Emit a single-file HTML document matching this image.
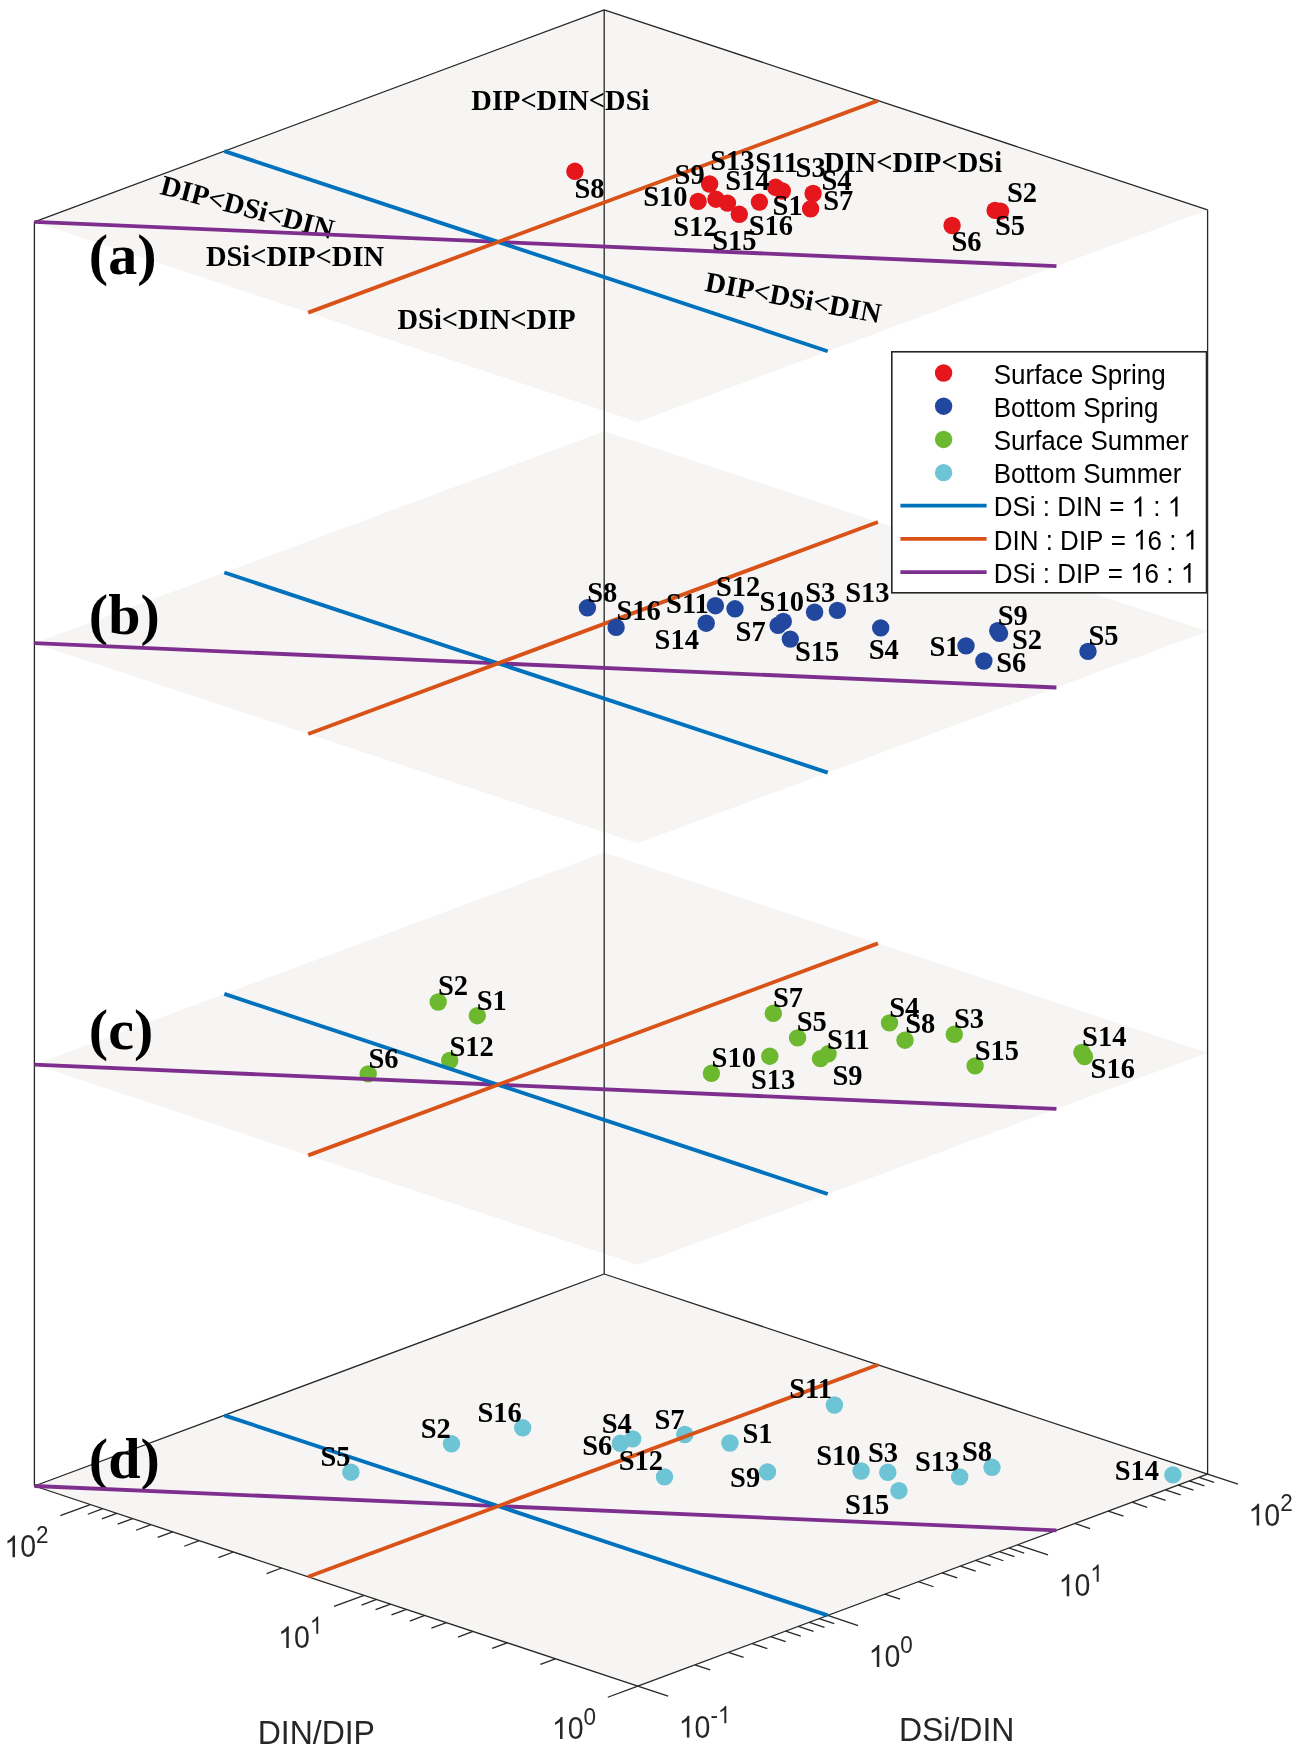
<!DOCTYPE html>
<html><head><meta charset="utf-8"><style>
html,body{margin:0;padding:0;background:#fff;}
svg{display:block;will-change:transform;}
</style></head><body>
<svg width="1302" height="1750" viewBox="0 0 1302 1750">
<polygon points="34.4,1486 604.2,1274 1207.6,1474.1 637.8,1686.1" fill="#F6F5F3"/>
<polygon points="34.4,1064.6 604.2,852.6 1207.6,1052.7 637.8,1264.7" fill="#F6F5F3"/>
<polygon points="34.4,643.2 604.2,431.2 1207.6,631.3 637.8,843.3" fill="#F6F5F3"/>
<polygon points="34.4,221.8 604.2,9.8 1207.6,209.9 637.8,421.9" fill="#F6F5F3"/>
<line x1="34.4" y1="1486" x2="34.4" y2="221.8" stroke="#262626" stroke-width="1.3"/>
<line x1="604.2" y1="1274" x2="604.2" y2="9.8" stroke="#262626" stroke-width="1.3"/>
<line x1="1207.6" y1="1474.1" x2="1207.6" y2="209.9" stroke="#262626" stroke-width="1.3"/>
<line x1="34.4" y1="221.8" x2="604.2" y2="9.8" stroke="#262626" stroke-width="1.3"/>
<line x1="604.2" y1="9.8" x2="1207.6" y2="209.9" stroke="#262626" stroke-width="1.3"/>
<line x1="34.4" y1="1486" x2="604.2" y2="1274" stroke="#262626" stroke-width="1.3"/>
<line x1="604.2" y1="1274" x2="1207.6" y2="1474.1" stroke="#262626" stroke-width="1.3"/>
<line x1="34.4" y1="1486" x2="637.8" y2="1686.1" stroke="#262626" stroke-width="1.3"/>
<line x1="637.8" y1="1686.1" x2="1207.6" y2="1474.1" stroke="#262626" stroke-width="1.3"/>
<line x1="637.8" y1="1686.1" x2="668.17" y2="1696.17" stroke="#262626" stroke-width="1.3"/>
<line x1="694.98" y1="1664.83" x2="710.16" y2="1669.86" stroke="#262626" stroke-width="1.3"/>
<line x1="728.42" y1="1652.38" x2="743.61" y2="1657.42" stroke="#262626" stroke-width="1.3"/>
<line x1="752.15" y1="1643.55" x2="767.34" y2="1648.59" stroke="#262626" stroke-width="1.3"/>
<line x1="770.56" y1="1636.71" x2="785.74" y2="1641.74" stroke="#262626" stroke-width="1.3"/>
<line x1="785.6" y1="1631.11" x2="800.78" y2="1636.15" stroke="#262626" stroke-width="1.3"/>
<line x1="798.31" y1="1626.38" x2="813.5" y2="1631.42" stroke="#262626" stroke-width="1.3"/>
<line x1="809.33" y1="1622.28" x2="824.51" y2="1627.32" stroke="#262626" stroke-width="1.3"/>
<line x1="819.04" y1="1618.67" x2="834.23" y2="1623.7" stroke="#262626" stroke-width="1.3"/>
<line x1="827.73" y1="1615.43" x2="858.11" y2="1625.51" stroke="#262626" stroke-width="1.3"/>
<line x1="884.91" y1="1594.16" x2="900.1" y2="1599.2" stroke="#262626" stroke-width="1.3"/>
<line x1="918.35" y1="1581.72" x2="933.54" y2="1586.75" stroke="#262626" stroke-width="1.3"/>
<line x1="942.08" y1="1572.89" x2="957.27" y2="1577.92" stroke="#262626" stroke-width="1.3"/>
<line x1="960.49" y1="1566.04" x2="975.68" y2="1571.08" stroke="#262626" stroke-width="1.3"/>
<line x1="975.53" y1="1560.44" x2="990.72" y2="1565.48" stroke="#262626" stroke-width="1.3"/>
<line x1="988.25" y1="1555.71" x2="1003.43" y2="1560.75" stroke="#262626" stroke-width="1.3"/>
<line x1="999.26" y1="1551.61" x2="1014.45" y2="1556.65" stroke="#262626" stroke-width="1.3"/>
<line x1="1008.98" y1="1548" x2="1024.16" y2="1553.04" stroke="#262626" stroke-width="1.3"/>
<line x1="1017.67" y1="1544.77" x2="1048.04" y2="1554.84" stroke="#262626" stroke-width="1.3"/>
<line x1="1074.84" y1="1523.49" x2="1090.03" y2="1528.53" stroke="#262626" stroke-width="1.3"/>
<line x1="1108.29" y1="1511.05" x2="1123.47" y2="1516.09" stroke="#262626" stroke-width="1.3"/>
<line x1="1132.02" y1="1502.22" x2="1147.2" y2="1507.26" stroke="#262626" stroke-width="1.3"/>
<line x1="1150.42" y1="1495.37" x2="1165.61" y2="1500.41" stroke="#262626" stroke-width="1.3"/>
<line x1="1165.46" y1="1489.78" x2="1180.65" y2="1494.81" stroke="#262626" stroke-width="1.3"/>
<line x1="1178.18" y1="1485.05" x2="1193.37" y2="1490.08" stroke="#262626" stroke-width="1.3"/>
<line x1="1189.19" y1="1480.95" x2="1204.38" y2="1485.98" stroke="#262626" stroke-width="1.3"/>
<line x1="1198.91" y1="1477.33" x2="1214.1" y2="1482.37" stroke="#262626" stroke-width="1.3"/>
<line x1="1207.6" y1="1474.1" x2="1237.97" y2="1484.17" stroke="#262626" stroke-width="1.3"/>
<line x1="637.8" y1="1686.1" x2="607.81" y2="1697.26" stroke="#262626" stroke-width="1.3"/>
<line x1="555.39" y1="1658.77" x2="540.39" y2="1664.35" stroke="#262626" stroke-width="1.3"/>
<line x1="507.18" y1="1642.78" x2="492.19" y2="1648.36" stroke="#262626" stroke-width="1.3"/>
<line x1="472.98" y1="1631.44" x2="457.98" y2="1637.02" stroke="#262626" stroke-width="1.3"/>
<line x1="446.45" y1="1622.64" x2="431.45" y2="1628.22" stroke="#262626" stroke-width="1.3"/>
<line x1="424.77" y1="1615.46" x2="409.78" y2="1621.04" stroke="#262626" stroke-width="1.3"/>
<line x1="406.45" y1="1609.38" x2="391.45" y2="1614.96" stroke="#262626" stroke-width="1.3"/>
<line x1="390.57" y1="1604.11" x2="375.57" y2="1609.69" stroke="#262626" stroke-width="1.3"/>
<line x1="376.57" y1="1599.47" x2="361.57" y2="1605.05" stroke="#262626" stroke-width="1.3"/>
<line x1="364.04" y1="1595.32" x2="334.05" y2="1606.47" stroke="#262626" stroke-width="1.3"/>
<line x1="281.63" y1="1567.99" x2="266.63" y2="1573.57" stroke="#262626" stroke-width="1.3"/>
<line x1="233.42" y1="1552" x2="218.43" y2="1557.58" stroke="#262626" stroke-width="1.3"/>
<line x1="199.22" y1="1540.66" x2="184.22" y2="1546.24" stroke="#262626" stroke-width="1.3"/>
<line x1="172.69" y1="1531.86" x2="157.69" y2="1537.44" stroke="#262626" stroke-width="1.3"/>
<line x1="151.01" y1="1524.67" x2="136.02" y2="1530.25" stroke="#262626" stroke-width="1.3"/>
<line x1="132.69" y1="1518.59" x2="117.69" y2="1524.17" stroke="#262626" stroke-width="1.3"/>
<line x1="116.81" y1="1513.33" x2="101.81" y2="1518.91" stroke="#262626" stroke-width="1.3"/>
<line x1="102.81" y1="1508.69" x2="87.81" y2="1514.26" stroke="#262626" stroke-width="1.3"/>
<line x1="90.28" y1="1504.53" x2="60.29" y2="1515.69" stroke="#262626" stroke-width="1.3"/>
<text transform="translate(551.91,1738.9) scale(1.0,1.075)" x="0" y="0" style="font-family:'Liberation Sans',sans-serif;font-size:28.5px;font-kerning:none" fill="#262626"> 0</text>
<path transform="translate(551.91,1738.9) scale(0.013916,-0.014960)" d="M763,0L583,0L583,1147Q518,1085 412,1023Q306,961 222,930L222,1104Q373,1175 486,1276Q599,1377 646,1466L763,1466Z" fill="#262626"/>
<text transform="translate(583.61,1724.5) scale(1.0,1.075)" x="0" y="0" style="font-family:'Liberation Sans',sans-serif;font-size:22.5px;font-kerning:none" fill="#262626">0</text>
<text transform="translate(278.15,1648.12) scale(1.0,1.075)" x="0" y="0" style="font-family:'Liberation Sans',sans-serif;font-size:28.5px;font-kerning:none" fill="#262626"> 0</text>
<path transform="translate(278.15,1648.12) scale(0.013916,-0.014960)" d="M763,0L583,0L583,1147Q518,1085 412,1023Q306,961 222,930L222,1104Q373,1175 486,1276Q599,1377 646,1466L763,1466Z" fill="#262626"/>
<text transform="translate(309.85,1633.72) scale(1.0,1.075)" x="0" y="0" style="font-family:'Liberation Sans',sans-serif;font-size:22.5px;font-kerning:none" fill="#262626"> </text>
<path transform="translate(309.85,1633.72) scale(0.010986,-0.011810)" d="M763,0L583,0L583,1147Q518,1085 412,1023Q306,961 222,930L222,1104Q373,1175 486,1276Q599,1377 646,1466L763,1466Z" fill="#262626"/>
<text transform="translate(4.39,1557.33) scale(1.0,1.075)" x="0" y="0" style="font-family:'Liberation Sans',sans-serif;font-size:28.5px;font-kerning:none" fill="#262626"> 0</text>
<path transform="translate(4.39,1557.33) scale(0.013916,-0.014960)" d="M763,0L583,0L583,1147Q518,1085 412,1023Q306,961 222,930L222,1104Q373,1175 486,1276Q599,1377 646,1466L763,1466Z" fill="#262626"/>
<text transform="translate(36.09,1542.93) scale(1.0,1.075)" x="0" y="0" style="font-family:'Liberation Sans',sans-serif;font-size:22.5px;font-kerning:none" fill="#262626">2</text>
<text transform="translate(678.72,1737.6) scale(1.0,1.075)" x="0" y="0" style="font-family:'Liberation Sans',sans-serif;font-size:28.5px;font-kerning:none" fill="#262626"> 0</text>
<path transform="translate(678.72,1737.6) scale(0.013916,-0.014960)" d="M763,0L583,0L583,1147Q518,1085 412,1023Q306,961 222,930L222,1104Q373,1175 486,1276Q599,1377 646,1466L763,1466Z" fill="#262626"/>
<text transform="translate(710.42,1723.2) scale(1.0,1.075)" x="0" y="0" style="font-family:'Liberation Sans',sans-serif;font-size:22.5px;font-kerning:none" fill="#262626">- </text>
<path transform="translate(717.92,1723.2) scale(0.010986,-0.011810)" d="M763,0L583,0L583,1147Q518,1085 412,1023Q306,961 222,930L222,1104Q373,1175 486,1276Q599,1377 646,1466L763,1466Z" fill="#262626"/>
<text transform="translate(868.66,1666.93) scale(1.0,1.075)" x="0" y="0" style="font-family:'Liberation Sans',sans-serif;font-size:28.5px;font-kerning:none" fill="#262626"> 0</text>
<path transform="translate(868.66,1666.93) scale(0.013916,-0.014960)" d="M763,0L583,0L583,1147Q518,1085 412,1023Q306,961 222,930L222,1104Q373,1175 486,1276Q599,1377 646,1466L763,1466Z" fill="#262626"/>
<text transform="translate(900.36,1652.53) scale(1.0,1.075)" x="0" y="0" style="font-family:'Liberation Sans',sans-serif;font-size:22.5px;font-kerning:none" fill="#262626">0</text>
<text transform="translate(1058.59,1596.27) scale(1.0,1.075)" x="0" y="0" style="font-family:'Liberation Sans',sans-serif;font-size:28.5px;font-kerning:none" fill="#262626"> 0</text>
<path transform="translate(1058.59,1596.27) scale(0.013916,-0.014960)" d="M763,0L583,0L583,1147Q518,1085 412,1023Q306,961 222,930L222,1104Q373,1175 486,1276Q599,1377 646,1466L763,1466Z" fill="#262626"/>
<text transform="translate(1090.29,1581.87) scale(1.0,1.075)" x="0" y="0" style="font-family:'Liberation Sans',sans-serif;font-size:22.5px;font-kerning:none" fill="#262626"> </text>
<path transform="translate(1090.29,1581.87) scale(0.010986,-0.011810)" d="M763,0L583,0L583,1147Q518,1085 412,1023Q306,961 222,930L222,1104Q373,1175 486,1276Q599,1377 646,1466L763,1466Z" fill="#262626"/>
<text transform="translate(1248.52,1525.6) scale(1.0,1.075)" x="0" y="0" style="font-family:'Liberation Sans',sans-serif;font-size:28.5px;font-kerning:none" fill="#262626"> 0</text>
<path transform="translate(1248.52,1525.6) scale(0.013916,-0.014960)" d="M763,0L583,0L583,1147Q518,1085 412,1023Q306,961 222,930L222,1104Q373,1175 486,1276Q599,1377 646,1466L763,1466Z" fill="#262626"/>
<text transform="translate(1280.22,1511.2) scale(1.0,1.075)" x="0" y="0" style="font-family:'Liberation Sans',sans-serif;font-size:22.5px;font-kerning:none" fill="#262626">2</text>
<text transform="translate(257.68,1744) scale(1.0,1.04)" x="0" y="0" style="font-family:'Liberation Sans',sans-serif;font-size:32px;font-kerning:none" fill="#262626">DIN/DIP</text>
<text transform="translate(898.88,1740.6) scale(1.0,1.04)" x="0" y="0" style="font-family:'Liberation Sans',sans-serif;font-size:32px;font-kerning:none" fill="#262626">DSi/DIN</text>
<text x="88.85" y="274.4" style="font-family:'Liberation Serif',serif;font-weight:bold;font-size:58px" fill="#000">(a)</text>
<text x="88.85" y="634.2" style="font-family:'Liberation Serif',serif;font-weight:bold;font-size:58px" fill="#000">(b)</text>
<text x="88.85" y="1048.7" style="font-family:'Liberation Serif',serif;font-weight:bold;font-size:58px" fill="#000">(c)</text>
<text x="88.85" y="1477.8" style="font-family:'Liberation Serif',serif;font-weight:bold;font-size:58px" fill="#000">(d)</text>
<text x="471.3" y="110" style="font-family:'Liberation Serif',serif;font-weight:bold;font-size:28.5px" fill="#000">DIP&lt;DIN&lt;DSi</text>
<text x="823.9" y="172.1" style="font-family:'Liberation Serif',serif;font-weight:bold;font-size:28.5px" fill="#000">DIN&lt;DIP&lt;DSi</text>
<text x="205.9" y="265.6" style="font-family:'Liberation Serif',serif;font-weight:bold;font-size:28.5px" fill="#000">DSi&lt;DIP&lt;DIN</text>
<text x="397.5" y="329" style="font-family:'Liberation Serif',serif;font-weight:bold;font-size:28.5px" fill="#000">DSi&lt;DIN&lt;DIP</text>
<text x="0" y="0" transform="translate(158.9,193.81) rotate(14.8)" style="font-family:'Liberation Serif',serif;font-weight:bold;font-size:28.5px" fill="#000">DIP&lt;DSi&lt;DIN</text>
<text x="0" y="0" transform="translate(704.07,290.76) rotate(10.5)" style="font-family:'Liberation Serif',serif;font-weight:bold;font-size:28.5px" fill="#000">DIP&lt;DSi&lt;DIN</text>
<circle cx="574.9" cy="171.3" r="8.7" fill="#E6171C"/>
<circle cx="698.1" cy="201.4" r="8.7" fill="#E6171C"/>
<circle cx="709.6" cy="184.0" r="8.7" fill="#E6171C"/>
<circle cx="716.0" cy="199.2" r="8.7" fill="#E6171C"/>
<circle cx="727.5" cy="203.1" r="8.7" fill="#E6171C"/>
<circle cx="739.3" cy="214.3" r="8.7" fill="#E6171C"/>
<circle cx="759.4" cy="202.1" r="8.7" fill="#E6171C"/>
<circle cx="775.6" cy="187.3" r="8.7" fill="#E6171C"/>
<circle cx="782.3" cy="191.0" r="8.7" fill="#E6171C"/>
<circle cx="813.1" cy="193.5" r="8.7" fill="#E6171C"/>
<circle cx="810.6" cy="208.8" r="8.7" fill="#E6171C"/>
<circle cx="952.1" cy="225.5" r="8.7" fill="#E6171C"/>
<circle cx="995.1" cy="210.4" r="8.7" fill="#E6171C"/>
<circle cx="1000.5" cy="211.2" r="8.7" fill="#E6171C"/>
<circle cx="587.4" cy="607.8" r="8.7" fill="#21489E"/>
<circle cx="706.2" cy="623.2" r="8.7" fill="#21489E"/>
<circle cx="715.4" cy="605.7" r="8.7" fill="#21489E"/>
<circle cx="735.0" cy="608.8" r="8.7" fill="#21489E"/>
<circle cx="778.1" cy="625.3" r="8.7" fill="#21489E"/>
<circle cx="783.3" cy="621.4" r="8.7" fill="#21489E"/>
<circle cx="790.3" cy="639.1" r="8.7" fill="#21489E"/>
<circle cx="814.6" cy="612.2" r="8.7" fill="#21489E"/>
<circle cx="837.4" cy="610.4" r="8.7" fill="#21489E"/>
<circle cx="880.7" cy="627.9" r="8.7" fill="#21489E"/>
<circle cx="997.7" cy="630.6" r="8.7" fill="#21489E"/>
<circle cx="999.5" cy="633.3" r="8.7" fill="#21489E"/>
<circle cx="966.0" cy="645.9" r="8.7" fill="#21489E"/>
<circle cx="983.9" cy="661.0" r="8.7" fill="#21489E"/>
<circle cx="1088.0" cy="651.4" r="8.7" fill="#21489E"/>
<circle cx="438.2" cy="1002.0" r="8.7" fill="#6CB92F"/>
<circle cx="477.3" cy="1015.7" r="8.7" fill="#6CB92F"/>
<circle cx="449.7" cy="1060.5" r="8.7" fill="#6CB92F"/>
<circle cx="368.2" cy="1073.9" r="8.7" fill="#6CB92F"/>
<circle cx="711.4" cy="1073.3" r="8.7" fill="#6CB92F"/>
<circle cx="769.8" cy="1056.2" r="8.7" fill="#6CB92F"/>
<circle cx="773.3" cy="1013.3" r="8.7" fill="#6CB92F"/>
<circle cx="797.6" cy="1037.9" r="8.7" fill="#6CB92F"/>
<circle cx="820.5" cy="1058.6" r="8.7" fill="#6CB92F"/>
<circle cx="828.1" cy="1053.8" r="8.7" fill="#6CB92F"/>
<circle cx="889.5" cy="1022.9" r="8.7" fill="#6CB92F"/>
<circle cx="905.0" cy="1040.2" r="8.7" fill="#6CB92F"/>
<circle cx="954.3" cy="1034.3" r="8.7" fill="#6CB92F"/>
<circle cx="975.1" cy="1065.9" r="8.7" fill="#6CB92F"/>
<circle cx="1081.9" cy="1052.4" r="8.7" fill="#6CB92F"/>
<circle cx="1084.5" cy="1056.6" r="8.7" fill="#6CB92F"/>
<circle cx="350.9" cy="1472.2" r="8.7" fill="#6CC4D4"/>
<circle cx="451.5" cy="1443.8" r="8.7" fill="#6CC4D4"/>
<circle cx="522.7" cy="1427.8" r="8.7" fill="#6CC4D4"/>
<circle cx="620.3" cy="1443.3" r="8.7" fill="#6CC4D4"/>
<circle cx="632.7" cy="1438.9" r="8.7" fill="#6CC4D4"/>
<circle cx="684.8" cy="1434.5" r="8.7" fill="#6CC4D4"/>
<circle cx="729.9" cy="1443.0" r="8.7" fill="#6CC4D4"/>
<circle cx="664.5" cy="1476.9" r="8.7" fill="#6CC4D4"/>
<circle cx="767.5" cy="1471.9" r="8.7" fill="#6CC4D4"/>
<circle cx="834.4" cy="1405.0" r="8.7" fill="#6CC4D4"/>
<circle cx="861.1" cy="1471.0" r="8.7" fill="#6CC4D4"/>
<circle cx="887.8" cy="1472.3" r="8.7" fill="#6CC4D4"/>
<circle cx="898.9" cy="1490.7" r="8.7" fill="#6CC4D4"/>
<circle cx="959.7" cy="1476.9" r="8.7" fill="#6CC4D4"/>
<circle cx="992.0" cy="1467.3" r="8.7" fill="#6CC4D4"/>
<circle cx="1172.9" cy="1474.9" r="8.7" fill="#6CC4D4"/>
<line x1="34.4" y1="1486" x2="1056.44" y2="1530.34" stroke="#7E2F8E" stroke-width="3.85"/>
<line x1="827.73" y1="1615.43" x2="224.33" y2="1415.33" stroke="#0072BD" stroke-width="3.85"/>
<line x1="308.16" y1="1576.78" x2="877.96" y2="1364.78" stroke="#D95319" stroke-width="3.85"/>
<line x1="34.4" y1="1064.6" x2="1056.44" y2="1108.94" stroke="#7E2F8E" stroke-width="3.85"/>
<line x1="827.73" y1="1194.03" x2="224.33" y2="993.93" stroke="#0072BD" stroke-width="3.85"/>
<line x1="308.16" y1="1155.38" x2="877.96" y2="943.38" stroke="#D95319" stroke-width="3.85"/>
<line x1="34.4" y1="643.2" x2="1056.44" y2="687.54" stroke="#7E2F8E" stroke-width="3.85"/>
<line x1="827.73" y1="772.63" x2="224.33" y2="572.53" stroke="#0072BD" stroke-width="3.85"/>
<line x1="308.16" y1="733.98" x2="877.96" y2="521.98" stroke="#D95319" stroke-width="3.85"/>
<line x1="34.4" y1="221.8" x2="1056.44" y2="266.14" stroke="#7E2F8E" stroke-width="3.85"/>
<line x1="827.73" y1="351.23" x2="224.33" y2="151.13" stroke="#0072BD" stroke-width="3.85"/>
<line x1="308.16" y1="312.58" x2="877.96" y2="100.58" stroke="#D95319" stroke-width="3.85"/>
<circle cx="616.1" cy="627.4" r="8.7" fill="#21489E"/>
<text x="574.48" y="198.2" style="font-family:'Liberation Serif',serif;font-weight:bold;font-size:28.5px" fill="#000">S8</text>
<text x="674.58" y="184.1" style="font-family:'Liberation Serif',serif;font-weight:bold;font-size:28.5px" fill="#000">S9</text>
<text x="643.28" y="205.6" style="font-family:'Liberation Serif',serif;font-weight:bold;font-size:28.5px" fill="#000">S10</text>
<text x="673.28" y="236" style="font-family:'Liberation Serif',serif;font-weight:bold;font-size:28.5px" fill="#000">S12</text>
<text x="710.18" y="169.8" style="font-family:'Liberation Serif',serif;font-weight:bold;font-size:28.5px" fill="#000">S13</text>
<text x="755.28" y="172.3" style="font-family:'Liberation Serif',serif;font-weight:bold;font-size:28.5px" fill="#000">S11</text>
<text x="795.58" y="176.6" style="font-family:'Liberation Serif',serif;font-weight:bold;font-size:28.5px" fill="#000">S3</text>
<text x="725.28" y="189.5" style="font-family:'Liberation Serif',serif;font-weight:bold;font-size:28.5px" fill="#000">S14</text>
<text x="821.38" y="190.1" style="font-family:'Liberation Serif',serif;font-weight:bold;font-size:28.5px" fill="#000">S4</text>
<text x="772.58" y="214.9" style="font-family:'Liberation Serif',serif;font-weight:bold;font-size:28.5px" fill="#000">S1</text>
<text x="823.18" y="210.4" style="font-family:'Liberation Serif',serif;font-weight:bold;font-size:28.5px" fill="#000">S7</text>
<text x="748.68" y="235.1" style="font-family:'Liberation Serif',serif;font-weight:bold;font-size:28.5px" fill="#000">S16</text>
<text x="712.28" y="250.1" style="font-family:'Liberation Serif',serif;font-weight:bold;font-size:28.5px" fill="#000">S15</text>
<text x="1006.98" y="201.5" style="font-family:'Liberation Serif',serif;font-weight:bold;font-size:28.5px" fill="#000">S2</text>
<text x="994.98" y="235.1" style="font-family:'Liberation Serif',serif;font-weight:bold;font-size:28.5px" fill="#000">S5</text>
<text x="951.38" y="251.3" style="font-family:'Liberation Serif',serif;font-weight:bold;font-size:28.5px" fill="#000">S6</text>
<text x="587.18" y="601.5" style="font-family:'Liberation Serif',serif;font-weight:bold;font-size:28.5px" fill="#000">S8</text>
<text x="616.48" y="620.3" style="font-family:'Liberation Serif',serif;font-weight:bold;font-size:28.5px" fill="#000">S16</text>
<text x="666.08" y="612.7" style="font-family:'Liberation Serif',serif;font-weight:bold;font-size:28.5px" fill="#000">S11</text>
<text x="654.58" y="648.5" style="font-family:'Liberation Serif',serif;font-weight:bold;font-size:28.5px" fill="#000">S14</text>
<text x="715.98" y="596.3" style="font-family:'Liberation Serif',serif;font-weight:bold;font-size:28.5px" fill="#000">S12</text>
<text x="759.58" y="610.6" style="font-family:'Liberation Serif',serif;font-weight:bold;font-size:28.5px" fill="#000">S10</text>
<text x="735.58" y="640.7" style="font-family:'Liberation Serif',serif;font-weight:bold;font-size:28.5px" fill="#000">S7</text>
<text x="805.28" y="601.5" style="font-family:'Liberation Serif',serif;font-weight:bold;font-size:28.5px" fill="#000">S3</text>
<text x="845.28" y="601.5" style="font-family:'Liberation Serif',serif;font-weight:bold;font-size:28.5px" fill="#000">S13</text>
<text x="794.88" y="661" style="font-family:'Liberation Serif',serif;font-weight:bold;font-size:28.5px" fill="#000">S15</text>
<text x="868.78" y="658.9" style="font-family:'Liberation Serif',serif;font-weight:bold;font-size:28.5px" fill="#000">S4</text>
<text x="997.68" y="624.7" style="font-family:'Liberation Serif',serif;font-weight:bold;font-size:28.5px" fill="#000">S9</text>
<text x="1011.88" y="649.1" style="font-family:'Liberation Serif',serif;font-weight:bold;font-size:28.5px" fill="#000">S2</text>
<text x="929.48" y="656.1" style="font-family:'Liberation Serif',serif;font-weight:bold;font-size:28.5px" fill="#000">S1</text>
<text x="996.18" y="671.7" style="font-family:'Liberation Serif',serif;font-weight:bold;font-size:28.5px" fill="#000">S6</text>
<text x="1088.38" y="645" style="font-family:'Liberation Serif',serif;font-weight:bold;font-size:28.5px" fill="#000">S5</text>
<text x="437.98" y="995.1" style="font-family:'Liberation Serif',serif;font-weight:bold;font-size:28.5px" fill="#000">S2</text>
<text x="476.68" y="1009.5" style="font-family:'Liberation Serif',serif;font-weight:bold;font-size:28.5px" fill="#000">S1</text>
<text x="449.48" y="1055.6" style="font-family:'Liberation Serif',serif;font-weight:bold;font-size:28.5px" fill="#000">S12</text>
<text x="368.48" y="1067.5" style="font-family:'Liberation Serif',serif;font-weight:bold;font-size:28.5px" fill="#000">S6</text>
<text x="772.98" y="1006.6" style="font-family:'Liberation Serif',serif;font-weight:bold;font-size:28.5px" fill="#000">S7</text>
<text x="796.78" y="1030.9" style="font-family:'Liberation Serif',serif;font-weight:bold;font-size:28.5px" fill="#000">S5</text>
<text x="827.08" y="1048.7" style="font-family:'Liberation Serif',serif;font-weight:bold;font-size:28.5px" fill="#000">S11</text>
<text x="711.58" y="1066.6" style="font-family:'Liberation Serif',serif;font-weight:bold;font-size:28.5px" fill="#000">S10</text>
<text x="750.88" y="1088.7" style="font-family:'Liberation Serif',serif;font-weight:bold;font-size:28.5px" fill="#000">S13</text>
<text x="832.48" y="1084.5" style="font-family:'Liberation Serif',serif;font-weight:bold;font-size:28.5px" fill="#000">S9</text>
<text x="889.18" y="1016.6" style="font-family:'Liberation Serif',serif;font-weight:bold;font-size:28.5px" fill="#000">S4</text>
<text x="905.18" y="1033.3" style="font-family:'Liberation Serif',serif;font-weight:bold;font-size:28.5px" fill="#000">S8</text>
<text x="953.98" y="1027.5" style="font-family:'Liberation Serif',serif;font-weight:bold;font-size:28.5px" fill="#000">S3</text>
<text x="974.78" y="1059.7" style="font-family:'Liberation Serif',serif;font-weight:bold;font-size:28.5px" fill="#000">S15</text>
<text x="1082.08" y="1046.2" style="font-family:'Liberation Serif',serif;font-weight:bold;font-size:28.5px" fill="#000">S14</text>
<text x="1090.58" y="1078.3" style="font-family:'Liberation Serif',serif;font-weight:bold;font-size:28.5px" fill="#000">S16</text>
<text x="320.38" y="1465.5" style="font-family:'Liberation Serif',serif;font-weight:bold;font-size:28.5px" fill="#000">S5</text>
<text x="420.78" y="1437.7" style="font-family:'Liberation Serif',serif;font-weight:bold;font-size:28.5px" fill="#000">S2</text>
<text x="477.48" y="1422.3" style="font-family:'Liberation Serif',serif;font-weight:bold;font-size:28.5px" fill="#000">S16</text>
<text x="601.68" y="1433.3" style="font-family:'Liberation Serif',serif;font-weight:bold;font-size:28.5px" fill="#000">S4</text>
<text x="582.28" y="1455.4" style="font-family:'Liberation Serif',serif;font-weight:bold;font-size:28.5px" fill="#000">S6</text>
<text x="654.48" y="1428.9" style="font-family:'Liberation Serif',serif;font-weight:bold;font-size:28.5px" fill="#000">S7</text>
<text x="742.48" y="1443" style="font-family:'Liberation Serif',serif;font-weight:bold;font-size:28.5px" fill="#000">S1</text>
<text x="618.78" y="1470.4" style="font-family:'Liberation Serif',serif;font-weight:bold;font-size:28.5px" fill="#000">S12</text>
<text x="730.08" y="1487.2" style="font-family:'Liberation Serif',serif;font-weight:bold;font-size:28.5px" fill="#000">S9</text>
<text x="789.18" y="1398.3" style="font-family:'Liberation Serif',serif;font-weight:bold;font-size:28.5px" fill="#000">S11</text>
<text x="816.28" y="1464.6" style="font-family:'Liberation Serif',serif;font-weight:bold;font-size:28.5px" fill="#000">S10</text>
<text x="867.88" y="1461.5" style="font-family:'Liberation Serif',serif;font-weight:bold;font-size:28.5px" fill="#000">S3</text>
<text x="914.88" y="1471.1" style="font-family:'Liberation Serif',serif;font-weight:bold;font-size:28.5px" fill="#000">S13</text>
<text x="961.88" y="1460.9" style="font-family:'Liberation Serif',serif;font-weight:bold;font-size:28.5px" fill="#000">S8</text>
<text x="844.88" y="1514.4" style="font-family:'Liberation Serif',serif;font-weight:bold;font-size:28.5px" fill="#000">S15</text>
<text x="1114.78" y="1480.3" style="font-family:'Liberation Serif',serif;font-weight:bold;font-size:28.5px" fill="#000">S14</text>
<rect x="891.8" y="351.8" width="314.7" height="241" fill="#fff" stroke="#262626" stroke-width="1.6"/>
<circle cx="943.6" cy="373" r="8.7" fill="#E6171C"/>
<text transform="translate(993.72,383.5) scale(1.0,1.07)" x="0" y="0" style="font-family:'Liberation Sans',sans-serif;font-size:26px;font-kerning:none" fill="#000">Surface Spring</text>
<circle cx="943.6" cy="406.22" r="8.7" fill="#21489E"/>
<text transform="translate(993.72,416.72) scale(1.0,1.07)" x="0" y="0" style="font-family:'Liberation Sans',sans-serif;font-size:26px;font-kerning:none" fill="#000">Bottom Spring</text>
<circle cx="943.6" cy="439.44" r="8.7" fill="#6CB92F"/>
<text transform="translate(993.72,449.94) scale(1.0,1.07)" x="0" y="0" style="font-family:'Liberation Sans',sans-serif;font-size:26px;font-kerning:none" fill="#000">Surface Summer</text>
<circle cx="943.6" cy="472.66" r="8.7" fill="#6CC4D4"/>
<text transform="translate(993.72,483.16) scale(1.0,1.07)" x="0" y="0" style="font-family:'Liberation Sans',sans-serif;font-size:26px;font-kerning:none" fill="#000">Bottom Summer</text>
<line x1="900.4" y1="505.68" x2="986.6" y2="505.68" stroke="#0072BD" stroke-width="3.85"/>
<text transform="translate(993.72,516.38) scale(1.0,1.07)" x="0" y="0" style="font-family:'Liberation Sans',sans-serif;font-size:26px;font-kerning:none" fill="#000">DSi : DIN =   :  </text>
<path transform="translate(1131.69,516.38) scale(0.012695,-0.013584)" d="M763,0L583,0L583,1147Q518,1085 412,1023Q306,961 222,930L222,1104Q373,1175 486,1276Q599,1377 646,1466L763,1466Z" fill="#000"/>
<path transform="translate(1167.82,516.38) scale(0.012695,-0.013584)" d="M763,0L583,0L583,1147Q518,1085 412,1023Q306,961 222,930L222,1104Q373,1175 486,1276Q599,1377 646,1466L763,1466Z" fill="#000"/>
<line x1="900.4" y1="538.9" x2="986.6" y2="538.9" stroke="#D95319" stroke-width="3.85"/>
<text transform="translate(993.72,549.6) scale(1.0,1.07)" x="0" y="0" style="font-family:'Liberation Sans',sans-serif;font-size:26px;font-kerning:none" fill="#000">DIN : DIP =  6 :  </text>
<path transform="translate(1133.14,549.6) scale(0.012695,-0.013584)" d="M763,0L583,0L583,1147Q518,1085 412,1023Q306,961 222,930L222,1104Q373,1175 486,1276Q599,1377 646,1466L763,1466Z" fill="#000"/>
<path transform="translate(1183.73,549.6) scale(0.012695,-0.013584)" d="M763,0L583,0L583,1147Q518,1085 412,1023Q306,961 222,930L222,1104Q373,1175 486,1276Q599,1377 646,1466L763,1466Z" fill="#000"/>
<line x1="900.4" y1="572.12" x2="986.6" y2="572.12" stroke="#7E2F8E" stroke-width="3.85"/>
<text transform="translate(993.72,582.82) scale(1.0,1.07)" x="0" y="0" style="font-family:'Liberation Sans',sans-serif;font-size:26px;font-kerning:none" fill="#000">DSi : DIP =  6 :  </text>
<path transform="translate(1130.26,582.82) scale(0.012695,-0.013584)" d="M763,0L583,0L583,1147Q518,1085 412,1023Q306,961 222,930L222,1104Q373,1175 486,1276Q599,1377 646,1466L763,1466Z" fill="#000"/>
<path transform="translate(1180.85,582.82) scale(0.012695,-0.013584)" d="M763,0L583,0L583,1147Q518,1085 412,1023Q306,961 222,930L222,1104Q373,1175 486,1276Q599,1377 646,1466L763,1466Z" fill="#000"/>
</svg>
</body></html>
